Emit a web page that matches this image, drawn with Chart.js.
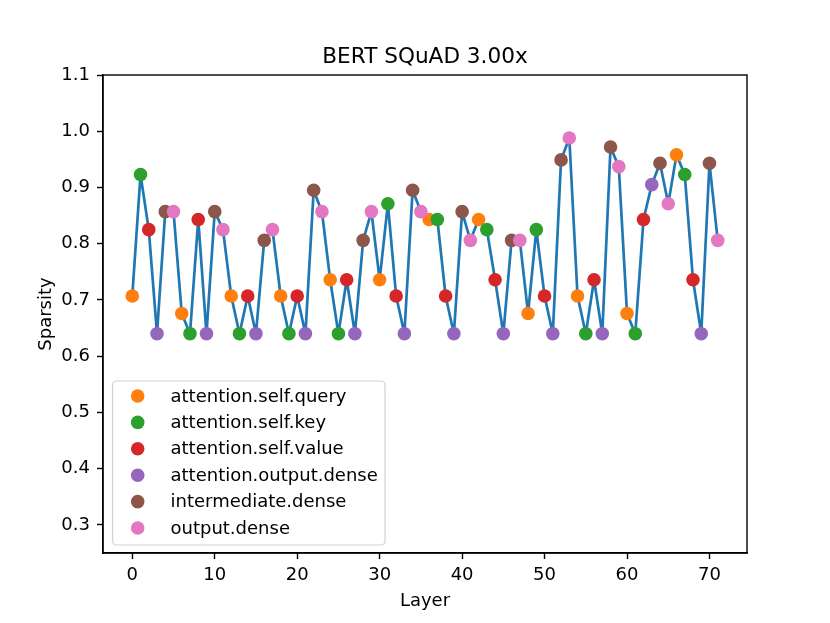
<!DOCTYPE html>
<html>
<head>
<meta charset="utf-8">
<script src="https://cdn.jsdelivr.net/npm/chart.js@4"></script>
<style>
html,body{margin:0;padding:0;background:#fff;}
#wrap{width:830px;height:623px;}
</style>
</head>
<body>
<div id="wrap"><canvas id="c" width="830" height="623"></canvas></div>
<script>
const layers = [0,1,2,3,4,5,6,7,8,9,10,11,12,13,14,15,16,17,18,19,20,21,22,23,24,25,26,27,28,29,30,31,32,33,34,35,
  36,37,38,39,40,41,42,43,44,45,46,47,48,49,50,51,52,53,54,55,56,57,58,59,60,61,62,63,64,65,66,67,68,69,70,71];
const sparsity = [
  0.707,0.923,0.825,0.640,0.857,0.857,
  0.676,0.640,0.843,0.640,0.857,0.825,
  0.707,0.640,0.707,0.640,0.806,0.825,
  0.707,0.640,0.707,0.640,0.895,0.857,
  0.736,0.640,0.736,0.640,0.806,0.857,
  0.736,0.871,0.707,0.640,0.895,0.857,
  0.843,0.843,0.707,0.640,0.857,0.806,
  0.843,0.825,0.736,0.640,0.806,0.806,
  0.676,0.825,0.707,0.640,0.949,0.988,
  0.707,0.640,0.736,0.640,0.972,0.937,
  0.676,0.640,0.843,0.905,0.943,0.871,
  0.958,0.923,0.736,0.640,0.943,0.806
];
const moduleNames = ['attention.self.query','attention.self.key','attention.self.value',
  'attention.output.dense','intermediate.dense','output.dense'];
const moduleColors = ['#ff7f0e','#2ca02c','#d62728','#9467bd','#8c564b','#e377c2'];
const xTicks = [0,10,20,30,40,50,60,70];
const yTicks = [0.3,0.4,0.5,0.6,0.7,0.8,0.9,1.0,1.1];
const titleText = 'BERT SQuAD 3.00x';

const FONT = "'DejaVu Sans', sans-serif";

const datasets = [{
  type:'line', label:'_line',
  data: layers.map((l,i)=>({x:l,y:sparsity[i]})),
  borderColor:'#1f77b4', borderWidth:2.7, pointRadius:0, tension:0, fill:false, order:10,
  borderJoinStyle:'round', borderCapStyle:'butt'
}];
moduleNames.forEach((name,k)=>{
  const pts = [];
  layers.forEach((l,i)=>{ if(i % moduleNames.length === k) pts.push({x:l,y:sparsity[i]}); });
  datasets.push({
    type:'scatter', label:name, data:pts,
    backgroundColor:moduleColors[k], borderColor:moduleColors[k], borderWidth:0,
    pointRadius:6.8, pointHoverRadius:6.8, order:moduleNames.length-k
  });
});

const framePlugin = {
  id:'frame',
  afterDatasetsDraw(chart){
    const {ctx, chartArea:a} = chart;
    ctx.save();
    ctx.strokeStyle='#000'; ctx.lineWidth=1.4;
    ctx.strokeRect(a.left, a.top, a.right-a.left, a.bottom-a.top);
    ctx.restore();
  },
  afterDraw(chart){
    const ctx = chart.ctx;
    const a = chart.chartArea;
    ctx.save();
    // title
    ctx.font = '21.6px ' + FONT;
    ctx.fillStyle = '#000';
    ctx.textAlign = 'center'; ctx.textBaseline = 'middle';
    ctx.fillText(titleText, (a.left + a.right)/2, 57);
    // legend box
    const bx=112.5, by=381, bw=272.5, bh=164, r=4;
    ctx.beginPath();
    ctx.moveTo(bx+r,by); ctx.lineTo(bx+bw-r,by); ctx.arcTo(bx+bw,by,bx+bw,by+r,r);
    ctx.lineTo(bx+bw,by+bh-r); ctx.arcTo(bx+bw,by+bh,bx+bw-r,by+bh,r);
    ctx.lineTo(bx+r,by+bh); ctx.arcTo(bx,by+bh,bx,by+bh-r,r);
    ctx.lineTo(bx,by+r); ctx.arcTo(bx,by,bx+r,by,r); ctx.closePath();
    ctx.fillStyle='rgba(255,255,255,0.8)'; ctx.fill();
    ctx.strokeStyle='rgba(204,204,204,0.9)'; ctx.lineWidth=1.2; ctx.stroke();
    ctx.font = '18px ' + FONT;
    ctx.textBaseline='middle'; ctx.textAlign='left';
    chart.data.datasets.forEach((ds)=>{
      if(ds.type!=='scatter') return;
      const k = moduleNames.indexOf(ds.label);
      const y = 396 + k*26.4;
      ctx.beginPath(); ctx.arc(137.7, y, 6.8, 0, Math.PI*2);
      ctx.fillStyle = ds.backgroundColor; ctx.fill();
      ctx.fillStyle='#000';
      ctx.fillText(ds.label, 170.5, y+1);
    });
    ctx.restore();
  }
};

new Chart(document.getElementById('c'), {
  data:{datasets},
  options:{
    responsive:false, animation:false, devicePixelRatio:1,
    layout:{padding:{left:0,right:83,top:75,bottom:0}},
    plugins:{
      legend:{display:false},
      tooltip:{enabled:false},
      title:{display:false}
    },
    scales:{
      x:{type:'linear', min:-3.55, max:74.55,
        afterBuildTicks(s){ s.ticks = xTicks.map(v=>({value:v})); },
        afterFit(s){ s.height = 70; },
        ticks:{color:'#000', font:{family:FONT,size:18}, padding:6, maxRotation:0,
          callback:v=>String(v)},
        grid:{drawOnChartArea:false, drawTicks:true, tickLength:6, tickColor:'#000', tickWidth:1.4},
        border:{display:true,color:'#000',width:1.4},
        title:{display:true, text:'Layer', color:'#000', font:{family:FONT,size:18},
          padding:{top:0,bottom:11}}
      },
      y:{type:'linear', min:0.25, max:1.1,
        afterBuildTicks(s){ s.ticks = yTicks.map(v=>({value:v})); },
        afterFit(s){ s.width = 103; },
        ticks:{color:'#000', font:{family:FONT,size:18}, padding:7,
          callback:v=>v.toFixed(1)},
        grid:{drawOnChartArea:false, drawTicks:true, tickLength:6, tickColor:'#000', tickWidth:1.4},
        border:{display:true,color:'#000',width:1.4},
        title:{display:true, text:'Sparsity', color:'#000', font:{family:FONT,size:18},
          padding:{top:36,bottom:0}}
      }
    }
  },
  plugins:[framePlugin]
});
</script>
</body>
</html>
